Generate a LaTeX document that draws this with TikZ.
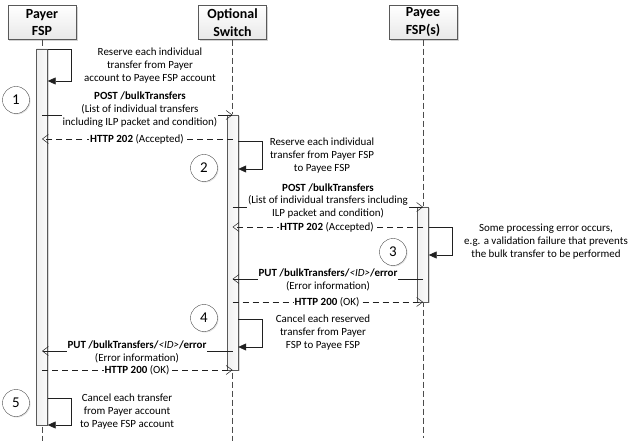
\documentclass[tikz,border=0pt]{standalone}
\usepackage{fontspec}
\setmainfont{Carlito}
\usetikzlibrary{shadows, arrows.meta, positioning, calc}

\tikzset{
  head/.style={draw=gray!70!black, top color=white, bottom color=gray!18, minimum width=68bp, minimum height=34bp, inner sep=0pt, align=center, font=\fontsize{14}{18}\selectfont\bfseries, drop shadow={opacity=0.35, shadow xshift=1.5bp, shadow yshift=-1.5bp}},
  bar/.style={draw=gray!70!black, left color=gray!12, right color=gray!4, minimum width=11bp, inner sep=0pt, drop shadow={opacity=0.3, shadow xshift=1.5bp, shadow yshift=-1bp}},
  lifeline/.style={draw=gray!60!black, dash pattern=on 6bp off 3bp},
  msg/.style={draw=gray!25!black, line width=0.5bp, -{Straight Barb[length=6bp, width=9bp]}},
  reply/.style={msg, dash pattern=on 6bp off 4bp},
  selfmsg/.style={draw=gray!25!black, line width=0.6bp, -{Triangle[length=8bp, width=7bp]}},
  lbl/.style={fill=white, inner sep=1bp, align=center, font=\fontsize{11}{13}\selectfont},
  note/.style={inner sep=0pt, align=center, font=\fontsize{11}{13}\selectfont},
  num/.style={circle, draw=gray!60!black, fill=white, minimum size=27bp, inner sep=0pt, font=\fontsize{15}{15}\selectfont, drop shadow={opacity=0.25, shadow xshift=1bp, shadow yshift=-1bp}}
}

\begin{document}
\begin{tikzpicture}[x=1bp, y=-1bp]
\useasboundingbox (0,0) rectangle (632,441);

% participants
\node[head] (payer) at (42,22.5) {Payer\\FSP};
\node[head] (switch) at (232.5,22.5) {Optional\\Switch};
\node[head] (payee) at (423,22.5) {Payee\\FSP(s)};
\coordinate (payerend) at (42,441);
\coordinate (switchend) at (232.5,441);
\coordinate (payeeend) at (423,438);
\draw[lifeline] (payer.south) -- (payerend);
\draw[lifeline] (switch.south) -- (switchend);
\draw[lifeline] (payee.south) -- (payeeend);

% activation bars
\node[bar, minimum height=376bp] (payerbar) at (42,237) {};
\node[bar, minimum height=255bp] (switchbar) at (232.5,242.5) {};
\node[bar, minimum height=95bp] (payeebar) at (423,254.5) {};

% messages
\draw[msg] (payerbar |- 0,115) -- (switchbar |- 0,115);
\node[lbl] (m1) at (140,110) {\textbf{POST /bulkTransfers}\\(List of individual transfers\\including ILP packet and condition)};
\draw[reply] (switchbar |- 0,139) -- (payerbar |- 0,139);
\node[lbl] (r1) at (137,139) {\textbf{HTTP 202} (Accepted)};
\draw[msg] (switchbar |- 0,207) -- (payeebar |- 0,207);
\node[lbl] (m2) at (328,201) {\textbf{POST /bulkTransfers}\\(List of individual transfers including\\ILP packet and condition)};
\draw[reply] (payeebar |- 0,227) -- (switchbar |- 0,227);
\node[lbl] (r2) at (327,227) {\textbf{HTTP 202} (Accepted)};
\draw[msg] (payeebar |- 0,279) -- (switchbar |- 0,279);
\node[lbl] (m3) at (328,279.5) {\textbf{PUT /bulkTransfers/}\textit{<ID>}\textbf{/error}\\(Error information)};
\draw[reply] (switchbar |- 0,302) -- (payeebar |- 0,302);
\node[lbl] (r3) at (327,302) {\textbf{HTTP 200} (OK)};
\draw[msg] (switchbar |- 0,351) -- (payerbar |- 0,351);
\node[lbl] (m4) at (137,351.5) {\textbf{PUT /bulkTransfers/}\textit{<ID>}\textbf{/error}\\(Error information)};
\draw[reply] (payerbar |- 0,370) -- (switchbar |- 0,370);
\node[lbl] (r4) at (137,370) {\textbf{HTTP 200} (OK)};

% self messages
\draw[selfmsg] (payerbar.east |- 0,49) -- ++(24,0) |- (payerbar.east |- 0,81);
\draw[selfmsg] (switchbar.east |- 0,141) -- ++(24,0) |- (switchbar.east |- 0,169);
\draw[selfmsg] (payeebar.east |- 0,227) -- ++(24,0) |- (payeebar.east |- 0,255);
\draw[selfmsg] (switchbar.east |- 0,319) -- ++(24,0) |- (switchbar.east |- 0,347);
\draw[selfmsg] (payerbar.east |- 0,398) -- ++(24,0) |- (payerbar.east |- 0,425);
\node[note] (n1) at (150,66) {Reserve each individual\\transfer from Payer\\account to Payee FSP account};
\node[note] (n2) at (322,156) {Reserve each individual\\transfer from Payer FSP\\to Payee FSP};
\node[note] (n3) at (546,241.5) {Some processing error occurs,\\e.g. a validation failure that prevents\\the bulk transfer to be performed};
\node[note] (n4) at (323,333) {Cancel each reserved\\transfer from Payer\\FSP to Payee FSP};
\node[note] (n5) at (127,411.5) {Cancel each transfer\\from Payer account\\to Payee FSP account};

% step numbers
\node[num] (s1) at (16,100) {1};
\node[num] (s2) at (204,168) {2};
\node[num] (s3) at (393,252) {3};
\node[num] (s4) at (204,318) {4};
\node[num] (s5) at (16,403) {5};
\end{tikzpicture}
\end{document}
